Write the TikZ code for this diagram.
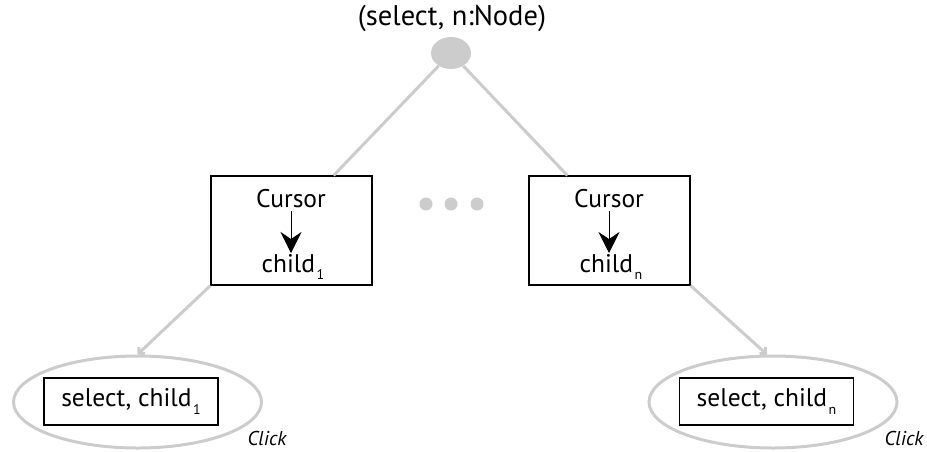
\documentclass[tikz,border=0pt]{standalone}
\usepackage{fontspec}
\setmainfont{PT Sans}
\usetikzlibrary{arrows.meta, positioning, calc, shapes.geometric}
\definecolor{edgegray}{gray}{0.8}
\newcommand{\lowidx}[1]{\kern1.5pt\raisebox{-0.6ex}{\fontsize{14}{14}\selectfont #1}}

\begin{document}
\begin{tikzpicture}[x=1pt, y=-1pt,
    txt/.style={inner sep=0pt, font=\fontsize{25.5}{28}\selectfont},
    curbox/.style={draw, line width=1.1pt, minimum width=161pt, minimum height=109pt},
    selbox/.style={draw, line width=1.1pt, minimum width=174pt, minimum height=47pt, inner sep=0pt, font=\fontsize{25.5}{28}\selectfont},
    selring/.style={ellipse, draw=edgegray, line width=3pt, minimum width=248pt, minimum height=92pt},
    treeedge/.style={draw=edgegray, line width=3pt},
    clickedge/.style={treeedge, -{Straight Barb[length=4pt, width=9pt]}},
    cursorarrow/.style={line width=0.9pt, -{Stealth[length=21pt, width=21pt, inset=7pt]}},
    clicktxt/.style={inner sep=0pt, font=\fontsize{20}{22}\selectfont\itshape}]

    \useasboundingbox (0,0) rectangle (927,451);

    % root
    \node[ellipse, fill=edgegray, minimum width=40pt, minimum height=32pt, inner sep=0pt] (root) at (451,53) {};
    \node[txt, font=\fontsize{28.5}{30}\selectfont] (rootlbl) at (452,18) {(select, n:Node)};

    % cursor boxes
    \node[curbox] (cur1) at (291.5,230.5) {};
    \node[curbox] (curn) at (609.5,230.5) {};
    \node[txt] (cur1top) at (291,199) {Cursor};
    \node[txt] (cur1bot) at (293,267) {child\lowidx{1}};
    \node[txt] (curntop) at (609,199) {Cursor};
    \node[txt] (curnbot) at (611,267) {child\lowidx{n}};
    \draw[cursorarrow] (cur1top.south |- 0,211) -- (cur1top.south |- 0,253);
    \draw[cursorarrow] (curntop.south |- 0,211) -- (curntop.south |- 0,253);

    % dots
    \foreach \dx in {426,451,477}
        \fill[edgegray] (\dx,204) circle (6.5pt);

    % click targets
    \node[selring] (sel1) at (137.5,402) {};
    \node[selring] (seln) at (773,402) {};
    \node[selbox] (sel1box) at (131,401.5) {select, child\lowidx{1}};
    \node[selbox] (selnbox) at (766.5,401.5) {select, child\lowidx{n}};
    \node[clicktxt] (click1) at (267,438) {Click};
    \node[clicktxt] (clickn) at (904,438) {Click};

    % edges
    \draw[treeedge] (root) -- ($(cur1.north west)!0.76!(cur1.north east)$);
    \draw[treeedge] (root) -- ($(curn.north east)!0.76!(curn.north west)$);
    \draw[clickedge] (cur1.south west) -- (sel1.north);
    \draw[clickedge] (curn.south east) -- ($(seln.north)+(-6,0)$);

\end{tikzpicture}
\end{document}
